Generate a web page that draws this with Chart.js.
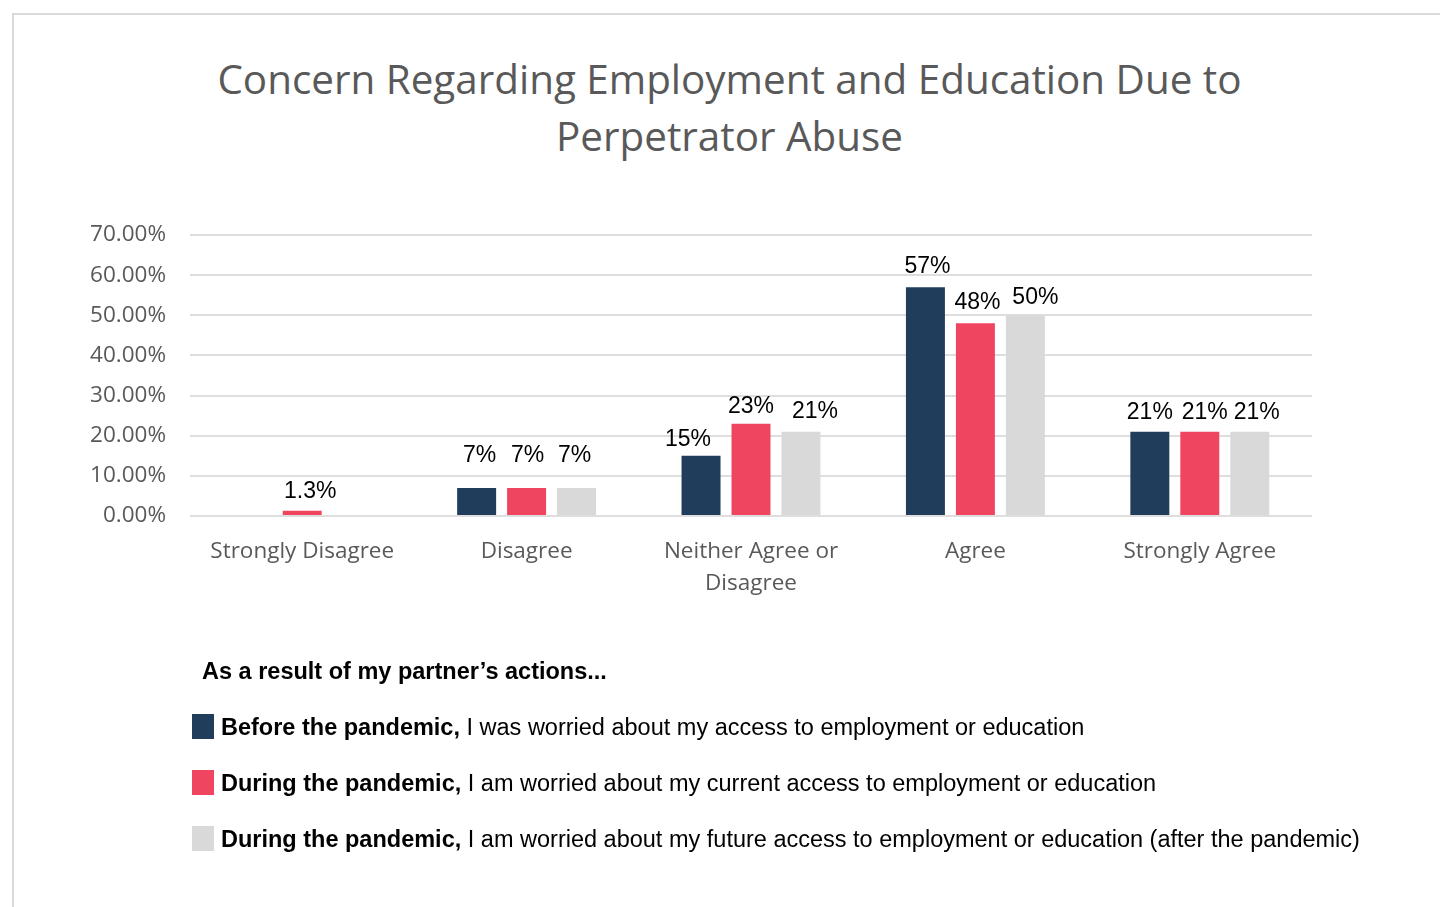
<!DOCTYPE html>
<html>
<head>
<meta charset="utf-8">
<script src="https://cdn.jsdelivr.net/npm/chart.js@4.4.1/dist/chart.umd.min.js"></script>
<style>
  html, body { margin: 0; padding: 0; background: #fff; }
  #wrap { position: relative; width: 1440px; height: 907px; overflow: hidden; }
  #frame { position: absolute; left: 12px; top: 13px; width: 1440px; height: 920px; border: 2px solid #d9d9d9; box-sizing: border-box; }
  #chart { position: absolute; left: 0; top: 0; }
  .title { position: absolute; left: 0; width: 1459px; top: 50px; text-align: center; white-space: nowrap; font-family: "Open Sans", sans-serif; font-size: 40.4px; line-height: 57px; color: #595959; }
  .legend { position: absolute; left: 0; top: 0; font-family: "Liberation Sans", Arial, sans-serif; font-size: 23.5px; color: #000; }
  .legend .head { position: absolute; left: 202px; top: 658px; font-weight: bold; white-space: nowrap; }
  .legend .item { position: absolute; left: 192px; white-space: nowrap; height: 26px; line-height: 26px; }
  .legend .sw { display: inline-block; width: 22px; height: 25px; vertical-align: top; margin-right: 7px; }
  .legend b { font-weight: bold; }
</style>
</head>
<body>
<div id="wrap">
  <div id="frame"></div>
  <div class="title">Concern Regarding Employment and Education Due to<br>Perpetrator Abuse</div>
  <canvas id="chart" width="1440" height="907"></canvas>
  <div class="legend">
    <div class="head">As a result of my partner’s actions...</div>
    <div class="item" style="top:714px"><span class="sw" style="background:#203d5c"></span><b>Before the pandemic,</b> I was worried about my access to employment or education</div>
    <div class="item" style="top:770px"><span class="sw" style="background:#ef4560"></span><b>During the pandemic,</b> I am worried about my current access to employment or education</div>
    <div class="item" style="top:826px"><span class="sw" style="background:#d9d9d9"></span><b>During the pandemic,</b> I am worried about my future access to employment or education (after the pandemic)</div>
  </div>
</div>
<script>
var categories = ["Strongly Disagree", "Disagree", ["Neither Agree or", "Disagree"], "Agree", "Strongly Agree"];
var beforePandemic = [0, 7, 15, 57, 21];
var duringCurrent = [1.3, 7, 23, 48, 21];
var duringFuture = [0, 7, 21, 50, 21];
var yTicks = [0, 10, 20, 30, 40, 50, 60, 70];

// hand-placed label offsets (px) so neighbouring labels don't crowd
var labelDx = [[0, 3, -13, 2, 0], [8, 1, 0, 2, 5], [0, -2, 14, 10, 7]];
var labelDy = [[0, -13, 3, -1, 0], [0, -13, 2, -1, 0], [0, -13, -1, 2, 0]];

// value labels over each bar (skip empty bars)
var barLabels = {
  id: 'barLabels',
  afterDatasetsDraw: function(chart) {
    var ctx = chart.ctx;
    ctx.save();
    ctx.font = '23px "Liberation Sans", Arial, sans-serif';
    ctx.fillStyle = '#000';
    ctx.textAlign = 'center';
    ctx.textBaseline = 'alphabetic';
    chart.data.datasets.forEach(function(ds, i) {
      chart.getDatasetMeta(i).data.forEach(function(bar, j) {
        var v = ds.data[j];
        if (!v) return;
        var txt = (Math.round(v) === v ? v : v.toFixed(1)) + '%';
        ctx.fillText(txt, bar.x + labelDx[i][j], bar.y - 13 + labelDy[i][j]);
      });
    });
    ctx.restore();
  }
};

var ctx = document.getElementById('chart');
var chart = new Chart(ctx, {
  type: 'bar',
  data: {
    labels: categories,
    datasets: [
      { label: 'Before the pandemic', data: beforePandemic, backgroundColor: '#203d5c' },
      { label: 'During the pandemic (current)', data: duringCurrent, backgroundColor: '#ef4560' },
      { label: 'During the pandemic (future)', data: duringFuture, backgroundColor: '#d9d9d9' }
    ]
  },
  options: {
    responsive: false,
    animation: false,
    events: [],
    categoryPercentage: 0.668,
    barPercentage: 0.78,
    layout: { padding: { left: 0, right: 128, top: 235, bottom: 291 } },
    plugins: {
      legend: { display: false },
      tooltip: { enabled: false },
      title: { display: false }
    },
    scales: {
      x: {
        grid: { display: false },
        border: { display: false },
        ticks: {
          color: '#595959',
          font: { family: '"Open Sans", sans-serif', size: 22.5, lineHeight: 1.4 },
          padding: 12,
          maxRotation: 0,
          autoSkip: false
        },
        afterFit: function(scale) { scale.height = 100; }
      },
      y: {
        min: 0,
        max: 70,
        afterBuildTicks: function(scale) {
          scale.ticks = yTicks.map(function(v) { return { value: v }; });
        },
        grid: { color: '#dedede', lineWidth: 2, drawTicks: false },
        border: { display: false },
        ticks: {
          color: '#595959',
          font: { family: '"Open Sans", sans-serif', size: 22.5 },
          padding: 24,
          callback: function(v) { return v.toFixed(2) + '%'; }
        },
        afterFit: function(scale) { scale.width = 190; }
      }
    }
  },
  plugins: [barLabels]
});
</script>
</body>
</html>
